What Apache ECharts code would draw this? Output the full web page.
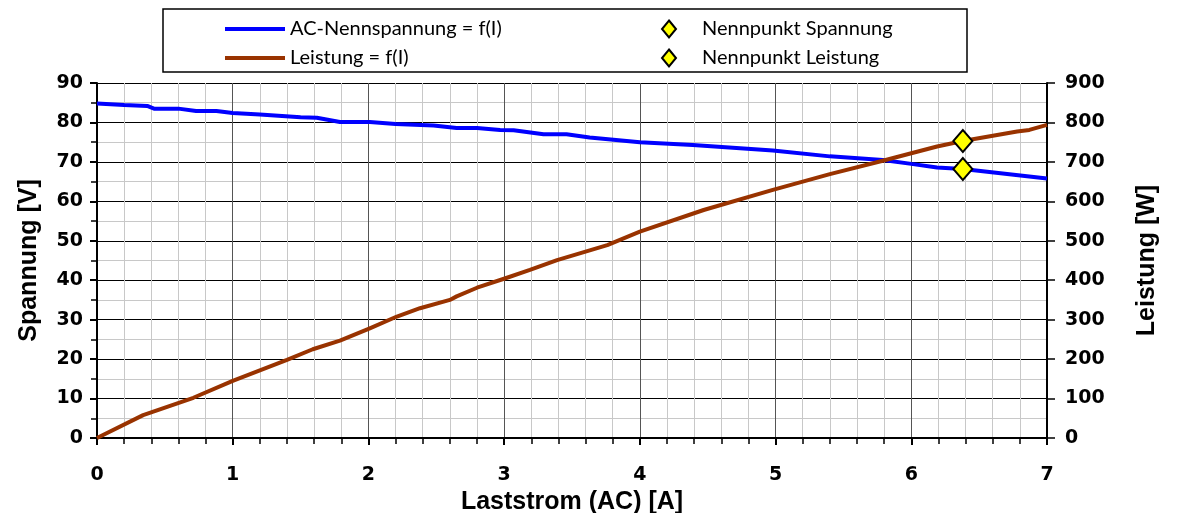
<!DOCTYPE html>
<html>
<head>
<meta charset="utf-8">
<script src="https://cdn.jsdelivr.net/npm/echarts@6/dist/echarts.min.js"></script>
<style>html,body{margin:0;padding:0;background:#fff}#c{width:1177px;height:513px}</style>
</head>
<body>
<div id="c"></div>
<script>
// Data
const currentV = [0, 0.2, 0.37, 0.42, 0.6, 0.73, 0.88, 1.0, 1.2, 1.5, 1.62, 1.79, 2.01, 2.2, 2.48, 2.65, 2.8, 2.97, 3.07, 3.29, 3.46, 3.63, 4.0, 4.39, 4.98, 5.4, 5.79, 6.0, 6.19, 6.38, 7.0];
const voltage  = [84.8, 84.4, 84.2, 83.5, 83.5, 82.9, 82.9, 82.4, 82.0, 81.3, 81.2, 80.1, 80.1, 79.6, 79.2, 78.6, 78.6, 78.1, 78.0, 77.0, 77.0, 76.2, 75.0, 74.3, 72.9, 71.4, 70.5, 69.5, 68.6, 68.2, 65.8];
const currentP = [0, 0.34, 0.71, 1.0, 1.4, 1.59, 1.79, 2.01, 2.21, 2.38, 2.6, 2.65, 2.8, 3.01, 3.19, 3.39, 3.76, 4.0, 4.47, 4.98, 5.4, 5.79, 6.0, 6.19, 6.38, 6.78, 6.87, 7.0];
const power    = [0, 58, 102, 145, 198, 225, 247, 278, 308, 329, 350, 359, 381, 405, 426, 451, 489, 523, 578, 629, 669, 703, 722, 739, 753, 777, 781, 794];
const nennStrom = 6.38;
const nennSpannung = 68.2;
const nennLeistung = 753;
const xTicks = ['0','1','2','3','4','5','6','7'];

const nameV = 'AC-Nennspannung = f(I)';
const nameP = 'Leistung = f(I)';
const nameNS = 'Nennpunkt Spannung';
const nameNL = 'Nennpunkt Leistung';

const zip = (a, b) => a.map((v, i) => [v, b[i]]);
const tickFont = {fontFamily: 'DejaVu Sans', fontWeight: 'bold', fontSize: 19, color: '#000'};
const nameFont = {fontFamily: 'Liberation Sans', fontWeight: 'bold', fontSize: 25, color: '#000'};
const legendFont = {fontFamily: 'Lato', fontSize: 20, color: '#000', lineHeight: 20};

const chart = echarts.init(document.getElementById('c'), null, {renderer: 'canvas'});
chart.setOption({
  animation: false,
  backgroundColor: '#fff',
  grid: {left: 97, right: 130, top: 83, bottom: 75, containLabel: false, outerBoundsMode: 'none'},
  graphic: [{
    type: 'rect', shape: {x: 163, y: 9, width: 804, height: 63},
    style: {fill: 'none', stroke: '#000', lineWidth: 1.5}, z: 10
  }],
  legend: [{
    data: [{name: nameV, icon: 'rect'}, {name: nameP, icon: 'rect'}],
    orient: 'vertical', left: 220, top: 14,
    itemWidth: 60, itemHeight: 4, itemGap: 9,
    textStyle: legendFont
  }, {
    data: [{name: nameNS, icon: 'diamond'}, {name: nameNL, icon: 'diamond'}],
    orient: 'vertical', left: 656, top: 14,
    itemWidth: 14, itemHeight: 17, itemGap: 9,
    textStyle: Object.assign({padding: [0, 0, 0, 21]}, legendFont)
  }],
  xAxis: {
    type: 'value', min: 0, max: 7, interval: 1,
    name: 'Laststrom (AC) [A]', nameLocation: 'middle', nameGap: 51, nameTextStyle: nameFont,
    axisLine: {show: true, onZero: false, lineStyle: {color: '#000', width: 2}},
    axisTick: {show: true, length: 7, lineStyle: {color: '#000', width: 2}},
    minorTick: {show: true, splitNumber: 5, length: 6, lineStyle: {color: '#000', width: 1.5}},
    axisLabel: Object.assign({margin: 28, formatter: v => xTicks[Math.round(v)]}, tickFont),
    splitLine: {show: true, lineStyle: {color: '#555', width: 1}},
    minorSplitLine: {show: true, lineStyle: {color: '#c8c8c8', width: 1}}
  },
  yAxis: [{
    type: 'value', min: 0, max: 90, interval: 10,
    name: 'Spannung [V]', nameLocation: 'middle', nameGap: 55, nameTextStyle: nameFont,
    axisLine: {show: true, lineStyle: {color: '#000', width: 2}},
    axisTick: {show: true, length: 7, lineStyle: {color: '#000', width: 2}},
    minorTick: {show: true, splitNumber: 2, length: 6, lineStyle: {color: '#000', width: 1.5}},
    axisLabel: Object.assign({margin: 14}, tickFont),
    splitLine: {show: true, lineStyle: {color: '#000', width: 1}},
    minorSplitLine: {show: true, lineStyle: {color: '#c8c8c8', width: 1}}
  }, {
    type: 'value', min: 0, max: 900, interval: 100, position: 'right',
    name: 'Leistung [W]', nameLocation: 'middle', nameGap: 88, nameRotate: 90, nameTextStyle: nameFont,
    axisLine: {show: true, lineStyle: {color: '#000', width: 2}},
    axisTick: {show: true, length: 8, lineStyle: {color: '#000', width: 1.5}},
    axisLabel: Object.assign({margin: 18}, tickFont),
    splitLine: {show: false}
  }],
  series: [{
    name: nameV, type: 'line', yAxisIndex: 0, data: zip(currentV, voltage),
    symbol: 'none', lineStyle: {color: '#0000ff', width: 4}, itemStyle: {color: '#0000ff'}, z: 3
  }, {
    name: nameP, type: 'line', yAxisIndex: 1, data: zip(currentP, power),
    symbol: 'none', lineStyle: {color: '#993300', width: 4}, itemStyle: {color: '#993300'}, z: 3
  }, {
    name: nameNS, type: 'scatter', yAxisIndex: 0, data: [[nennStrom, nennSpannung]],
    symbol: 'diamond', symbolSize: [19, 22],
    itemStyle: {color: '#ffff00', borderColor: '#000', borderWidth: 2, opacity: 1}, z: 5
  }, {
    name: nameNL, type: 'scatter', yAxisIndex: 1, data: [[nennStrom, nennLeistung]],
    symbol: 'diamond', symbolSize: [19, 22],
    itemStyle: {color: '#ffff00', borderColor: '#000', borderWidth: 2, opacity: 1}, z: 5
  }]
});
</script>
</body>
</html>
